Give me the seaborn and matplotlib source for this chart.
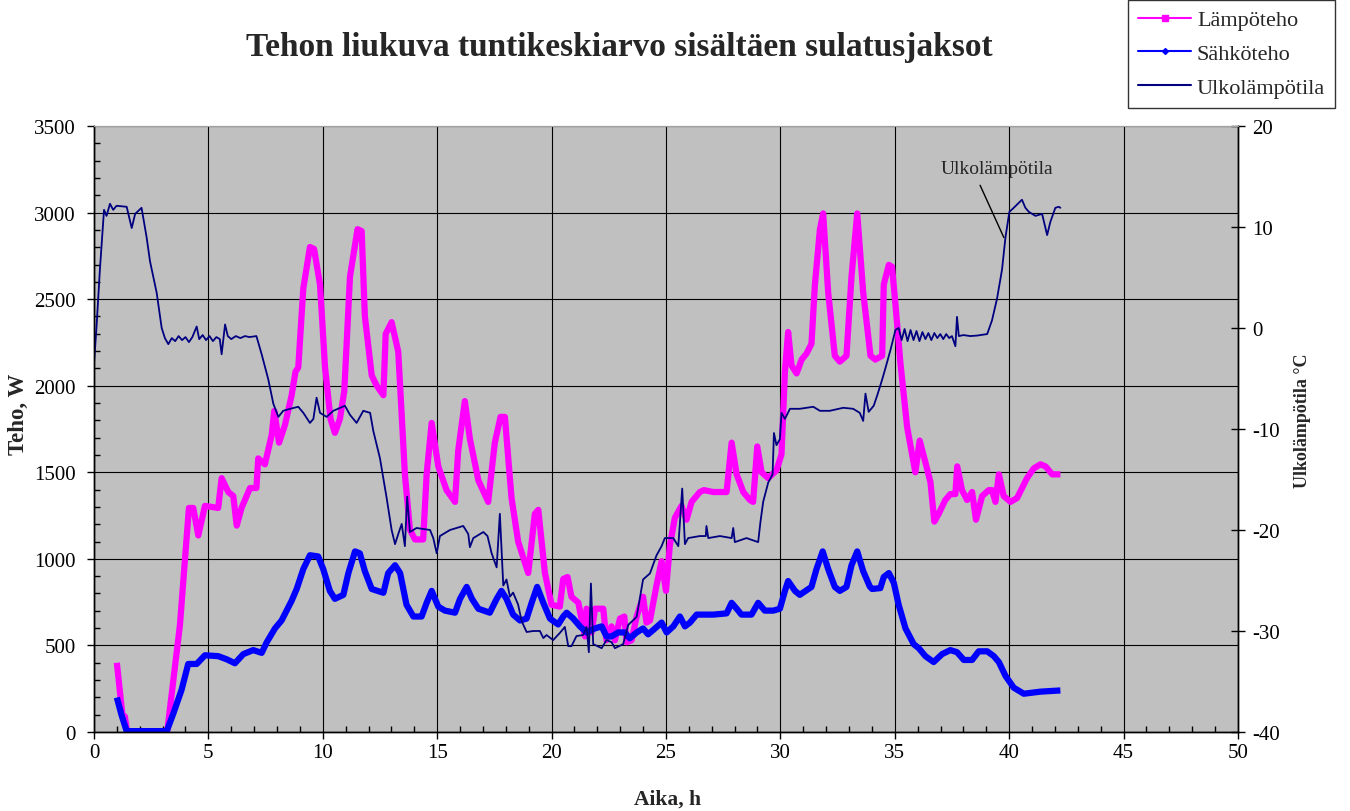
import matplotlib
matplotlib.use('Agg')
import matplotlib.pyplot as plt
import seaborn as sns
from matplotlib.lines import Line2D
from matplotlib.ticker import MultipleLocator

# ---------------- data ----------------
lamp_h = [1.0, 1.25, 1.35, 1.45, 3.2, 3.76, 4.15, 4.34, 4.56, 4.85, 5.43, 5.58, 5.87, 6.09,
          6.24, 6.45, 6.82, 7.1, 7.18, 7.47, 7.77, 7.88, 8.09, 8.35, 8.64, 8.81, 8.93, 9.15,
          9.44, 9.62, 9.88, 10.1, 10.34, 10.53, 10.75, 10.94, 11.19, 11.52, 11.7, 11.84,
          12.14, 12.35, 12.65, 12.75, 13.01, 13.3, 13.59, 13.81, 14.03, 14.39, 14.54, 14.76,
          15.05, 15.41, 15.78, 15.92, 16.21, 16.43, 16.8, 17.23, 17.52, 17.77, 17.96, 18.25,
          18.54, 18.98, 19.27, 19.42, 19.71, 20.0, 20.36, 20.51, 20.7, 20.87, 21.17, 21.46,
          21.53, 21.75, 21.9, 22.26, 22.4, 22.62, 22.77, 22.99, 23.18, 23.28, 23.5, 23.72,
          24.0, 24.15, 24.3, 24.59, 24.81, 25.0, 25.17, 25.39, 25.68, 25.9, 26.12, 26.48,
          26.66, 27.07, 27.65, 27.87, 28.09, 28.38, 28.67, 28.81, 28.99, 29.18, 29.47, 29.83,
          30.05, 30.2, 30.34, 30.49, 30.71, 30.93, 31.14, 31.36, 31.51, 31.73, 31.87, 32.09,
          32.38, 32.6, 32.89, 33.11, 33.36, 33.62, 33.94, 34.15, 34.45, 34.52, 34.74, 34.88,
          35.03, 35.25, 35.54, 35.9, 36.09, 36.34, 36.56, 36.73, 36.92, 37.21, 37.43, 37.65,
          37.73, 37.94, 38.16, 38.38, 38.55, 38.82, 39.11, 39.25, 39.4, 39.55, 39.76, 40.06,
          40.35, 40.78, 41.08, 41.37, 41.59, 41.88, 42.24]
lamp_w = [400, 90, 90, 0, 0, 621, 1294, 1294, 1135, 1306, 1294, 1466, 1386, 1363,
          1192, 1294, 1409, 1409, 1580, 1546, 1717, 1854, 1671, 1774, 1945, 2082, 2105, 2562,
          2801, 2790, 2584, 2105, 1808, 1728, 1808, 1968, 2630, 2904, 2893, 2402,
          2059, 2002, 1945, 2299, 2367, 2196, 1488, 1169, 1112, 1112, 1488, 1785,
          1534, 1397, 1329, 1625, 1911, 1694, 1454, 1329, 1671, 1820, 1820, 1352,
          1100, 918, 1260, 1283, 918, 735, 724, 884, 895, 781, 747, 552,
          712, 575, 712, 712, 530, 610, 530, 655, 667, 518, 530, 667,
          781, 632, 644, 849, 986, 815, 1077, 1237, 1306, 1226, 1329, 1386,
          1397, 1386, 1386, 1671, 1488, 1386, 1340, 1329, 1649, 1500, 1466, 1511,
          1603, 2082, 2310, 2116, 2071, 2151, 2185, 2242, 2584, 2904, 2995, 2539,
          2173, 2139, 2173, 2630, 2995, 2539, 2173, 2151, 2173, 2584, 2698, 2687,
          2470, 2128, 1762, 1500, 1683, 1557, 1443, 1215, 1260, 1340, 1374, 1374,
          1534, 1397, 1340, 1386, 1226, 1363, 1397, 1397, 1329, 1488, 1363, 1329,
          1352, 1466, 1523, 1546, 1534, 1488, 1488]

sahko_h = [1.0, 1.21, 1.43, 3.18, 3.47, 3.83, 4.12, 4.49, 4.85, 5.43, 5.8, 6.16, 6.53, 6.96,
           7.33, 7.55, 7.91, 8.2, 8.64, 8.86, 9.15, 9.44, 9.8, 10.02, 10.31, 10.53, 10.9,
           11.12, 11.41, 11.62, 11.84, 12.14, 12.65, 12.86, 13.16, 13.38, 13.66, 13.96, 14.32,
           14.54, 14.76, 15.05, 15.34, 15.78, 16.0, 16.29, 16.52, 16.8, 17.3, 17.6, 17.81,
           18.03, 18.32, 18.62, 18.91, 19.13, 19.37, 19.64, 19.93, 20.29, 20.51, 20.66, 20.95,
           21.24, 21.53, 21.89, 22.19, 22.4, 22.62, 22.91, 23.2, 23.42, 23.72, 24.0, 24.22,
           24.52, 24.81, 25.03, 25.32, 25.61, 25.83, 26.05, 26.34, 27.07, 27.65, 27.87, 28.09,
           28.3, 28.74, 29.03, 29.32, 29.69, 29.98, 30.2, 30.34, 30.64, 30.85, 31.36, 31.58,
           31.85, 32.09, 32.38, 32.6, 32.89, 33.11, 33.36, 33.62, 33.91, 34.01, 34.37, 34.52,
           34.74, 34.96, 35.17, 35.47, 35.83, 36.05, 36.34, 36.7, 37.07, 37.43, 37.72, 38.02,
           38.38, 38.67, 39.04, 39.33, 39.55, 39.84, 40.2, 40.64, 41.37, 42.24]
sahko_w = [199, 96, 5, 5, 107, 244, 393, 393, 443, 438, 420, 397, 450, 473,
           457, 518, 598, 644, 758, 826, 941, 1021, 1014, 941, 815, 769, 792,
           918, 1043, 1032, 929, 826, 804, 918, 963, 918, 735, 667, 667,
           746, 815, 724, 701, 689, 769, 838, 769, 712, 689, 769, 815,
           769, 678, 644, 655, 746, 838, 746, 655, 621, 667, 689, 655,
           610, 575, 598, 610, 552, 552, 575, 575, 541, 575, 598, 564,
           598, 632, 575, 610, 667, 610, 632, 678, 678, 685, 746, 712,
           678, 678, 746, 701, 701, 712, 815, 872, 815, 792, 838, 941,
           1043, 941, 838, 815, 838, 963, 1043, 929, 840, 826, 831, 895,
           918, 861, 735, 598, 507, 484, 438, 404, 450, 473, 461, 416,
           416, 466, 466, 438, 404, 324, 256, 221, 233, 240]

ulko_h = [0.0, 0.12, 0.26, 0.44, 0.55, 0.7, 0.84, 0.99, 1.43, 1.65, 1.8, 2.08, 2.3, 2.45,
          2.74, 2.96, 3.1, 3.25, 3.4, 3.55, 3.7, 3.85, 4.0, 4.15, 4.3, 4.49, 4.6, 4.75, 4.9,
          5.05, 5.2, 5.35, 5.5, 5.58, 5.73, 5.85, 6.0, 6.2, 6.4, 6.6, 6.8, 7.1,
          7.33, 7.62, 7.84, 8.06, 8.27, 8.57, 8.93, 9.15, 9.44, 9.59, 9.73, 9.88, 10.17,
          10.46, 10.97, 11.19, 11.48, 11.77, 12.07, 12.21, 12.5, 12.79, 13.01, 13.16, 13.3,
          13.45, 13.59, 13.69, 13.81, 14.1, 14.69, 14.83, 14.98, 15.12, 15.56, 16.14, 16.36,
          16.43, 16.58, 17.02, 17.2, 17.38, 17.6, 17.74, 17.89, 18.03, 18.18, 18.32, 18.54,
          18.69, 18.91, 19.2, 19.49, 19.64, 19.78, 20.07, 20.36, 20.58, 20.73, 20.87, 21.09,
          21.38, 21.53, 21.63, 21.72, 21.82, 22.19, 22.4, 22.62, 22.77, 23.13, 23.35, 23.72,
          24.0, 24.3, 24.59, 24.81, 24.95, 25.32, 25.54, 25.71, 25.83, 25.97, 26.48, 26.74,
          26.77, 26.85, 27.36, 27.87, 27.94, 28.01, 28.52, 29.03, 29.13, 29.25, 29.47, 29.66,
          29.72, 29.83, 29.98, 30.05, 30.2, 30.42, 30.85, 31.44, 31.73, 32.16, 32.75, 33.18,
          33.47, 33.62, 33.72, 33.86, 34.08, 34.23, 34.45, 34.59, 34.81, 35.03, 35.17, 35.3,
          35.43, 35.56, 35.69, 35.82, 35.95, 36.08, 36.21, 36.34, 36.47, 36.6, 36.73, 36.86,
          36.99, 37.12, 37.25, 37.38, 37.5, 37.65, 37.72, 37.8, 38.0, 38.3, 38.6, 39.04,
          39.25, 39.47, 39.69, 39.84, 40.01, 40.2, 40.56, 40.71, 40.86, 41.15, 41.44, 41.66,
          41.8, 42.02, 42.17, 42.24]
ulko_t = [-3.6, 0.4, 5.8, 11.7, 11.1, 12.3, 11.7, 12.1, 12.0, 9.9, 11.3, 11.9, 9.0, 6.6,
          3.5, 0.0, -1.0, -1.6, -1.0, -1.3, -0.8, -1.2, -0.9, -1.4, -0.9, 0.15, -1.1, -0.7, -1.2,
          -0.8, -1.3, -0.9, -1.1, -2.6, 0.35, -0.8, -1.1, -0.8, -1.0, -0.8, -0.9, -0.8,
          -2.6, -5.1, -7.5, -8.8, -8.2, -8.0, -7.8, -8.4, -9.4, -9.0, -6.9, -8.4, -8.8,
          -8.2, -7.7, -8.6, -9.4, -8.2, -8.4, -10.2, -12.9, -16.8, -20.0, -21.4, -20.4,
          -19.4, -21.6, -16.7, -20.2, -19.8, -20.0, -20.8, -22.3, -20.6, -20.0, -19.6, -20.4,
          -21.7, -20.8, -20.2, -20.6, -22.3, -23.7, -18.4, -25.5, -24.9, -26.6, -26.2, -27.4,
          -29.0, -30.1, -30.0, -30.0, -30.7, -30.4, -30.9, -30.2, -29.6, -31.5, -31.5, -30.5,
          -30.4, -29.6, -32.1, -25.3, -31.3, -31.7, -30.9, -31.1, -31.7, -31.3, -29.4, -28.6,
          -24.9, -24.3, -22.5, -21.6, -20.8, -20.8, -21.6, -15.9, -21.4, -20.8, -20.6, -20.6,
          -19.6, -20.8, -20.6, -20.8, -19.8, -21.2, -20.8, -21.2, -19.2, -17.2, -15.3, -14.5,
          -10.4, -11.6, -11.0, -8.4, -9.0, -8.0, -8.0, -7.8, -8.2, -8.2, -7.9, -8.0,
          -8.4, -9.2, -6.5, -8.3, -7.7, -6.7, -5.1, -4.0, -2.2, -0.2, 0.0, -1.2,
          -0.1, -1.3, -0.2, -1.2, -0.3, -1.3, -0.4, -1.1, -0.5, -1.2, -0.5, -1.0,
          -0.6, -1.1, -0.6, -1.0, -0.8, -1.8, 1.1, -0.8, -0.7, -0.8, -0.75, -0.6,
          0.75, 2.9, 5.8, 9.0, 11.5, 11.9, 12.7, 11.9, 11.5, 11.1, 11.3, 9.2,
          10.5, 11.9, 12.0, 11.9]

title = 'Tehon liukuva tuntikeskiarvo sisältäen sulatusjaksot'
labels = ['Lämpöteho', 'Sähköteho', 'Ulkolämpötila']

# ---------------- style ----------------
sns.set_style('ticks')
plt.rcParams['font.family'] = ['Liberation Serif', 'DejaVu Serif']
plt.rcParams['axes.unicode_minus'] = False

C_LAMP = '#FF00FF'
C_SAHKO = '#0000FF'
C_ULKO = '#000080'

fig = plt.figure(figsize=(13.5, 8.12), dpi=100)
ax = fig.add_axes([0.0696, 0.0973, 0.8474, 0.7463])
ax.set_facecolor('#C0C0C0')
ax2 = ax.twinx()

sns.lineplot(x=lamp_h, y=lamp_w, ax=ax, color=C_LAMP, lw=4.5, sort=False,
             estimator=None, solid_joinstyle='round', solid_capstyle='butt')
sns.lineplot(x=sahko_h, y=sahko_w, ax=ax, color=C_SAHKO, lw=4.5, sort=False,
             estimator=None, solid_joinstyle='round', solid_capstyle='butt')
sns.lineplot(x=ulko_h, y=ulko_t, ax=ax2, color=C_ULKO, lw=1.3, sort=False,
             estimator=None)

ax.set_xlim(0, 50)
ax.set_ylim(0, 3500)
ax2.set_ylim(-40, 20)

ax.xaxis.set_major_locator(MultipleLocator(5))
ax.xaxis.set_minor_locator(MultipleLocator(1))
ax.yaxis.set_major_locator(MultipleLocator(500))
ax.yaxis.set_minor_locator(MultipleLocator(100))
ax2.yaxis.set_major_locator(MultipleLocator(10))

ax.grid(True, which='major', color='black', lw=0.8)
ax.set_axisbelow(True)

ax.tick_params(which='major', direction='out', length=5, width=1, colors='black',
               labelsize=15)
ax.tick_params(axis='x', which='major', pad=3)
ax.tick_params(axis='y', which='major', pad=8)
ax.tick_params(which='minor', direction='in', length=4, width=1, colors='black')
ax2.tick_params(which='major', direction='inout', length=10, width=1, colors='black',
                labelsize=15, pad=5)

for a in (ax, ax2):
    for s in ['left', 'bottom', 'right']:
        a.spines[s].set_color('black')
        a.spines[s].set_linewidth(1.0)
    a.spines['top'].set_color('#A0A0A0')
    a.spines['top'].set_linewidth(0.8)

ax.set_xlabel('Aika, h', fontsize=15.5, fontweight='bold', va='center', ha='center')
ax.set_ylabel('Teho, W', fontsize=16.5, fontweight='bold', va='center', ha='center')
ax2.set_ylabel('Ulkolämpötila °C', fontsize=13, fontweight='bold', va='center', ha='center')
ax.xaxis.set_label_coords(0.501, -0.1106)
ax.yaxis.set_label_coords(-0.0664, 0.526)
ax2.yaxis.set_label_coords(1.056, 0.516)

fig.text(0.459, 0.941, title, ha='center', va='center', fontsize=24, fontweight='bold')

ax2.annotate('Ulkolämpötila', xy=(39.77, 8.95), xytext=(39.45, 15.8),
             ha='center', va='center', fontsize=14,
             arrowprops=dict(arrowstyle='-', color='black', lw=1, relpos=(0.32, 0),
                             shrinkA=4, shrinkB=0))

handles = [Line2D([], [], color=C_LAMP, lw=1.5, marker='s', markersize=4),
           Line2D([], [], color=C_SAHKO, lw=1.5, marker='D', markersize=3),
           Line2D([], [], color=C_ULKO, lw=1.5)]
leg = fig.legend(handles, labels, loc='upper left', bbox_to_anchor=(0.8356, 0.999),
                 frameon=True, fancybox=False, edgecolor='black', fontsize=16,
                 handlelength=2.4, handletextpad=0.25, borderpad=0.45, labelspacing=0.6,
                 borderaxespad=0)
leg.get_frame().set_linewidth(1.0)

fig.savefig('out.png', dpi=100, facecolor='white')
